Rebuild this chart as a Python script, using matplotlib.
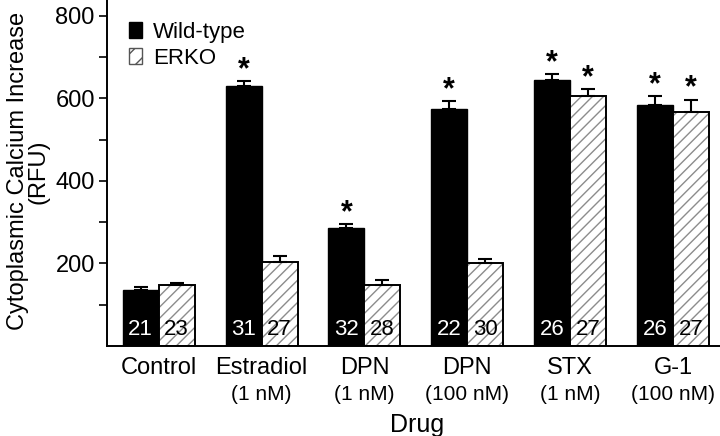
import numpy
import matplotlib
matplotlib.use("Agg")
import matplotlib.pyplot as pyplot
import matplotlib.ticker as ticker

pyplot.rc("font", family=["Liberation Sans", "DejaVu Sans"], size=15)
pyplot.rc("hatch", linewidth=1.0)

drugNames = ["Control", "Estradiol", "DPN", "DPN", "STX", "G-1"]
drugDoses = ["", "(1 nM)", "(1 nM)", "(100 nM)", "(1 nM)", "(100 nM)"]

wildType = [136, 629, 285, 575, 644, 585]
wildTypeErr = [6, 12, 11, 18, 16, 21]
erko = [147, 202, 147, 201, 606, 567]
erkoErr = [6, 16, 12, 10, 17, 30]

wildTypeN = [21, 31, 32, 22, 26, 26]
erkoN = [23, 27, 28, 30, 27, 27]

wildTypeStar = [False, True, True, True, True, True]
erkoStar = [False, False, False, False, True, True]

x = numpy.arange(len(drugNames))
width = 0.35
hatchGray = "#8c8c8c"

figure = pyplot.figure(figsize=(7.2, 4.36), dpi=100)
axes = figure.add_axes([0.149, 0.207, 0.86, 0.80])

errStyle = {"ecolor": "black", "elinewidth": 1.5, "capsize": 5, "capthick": 1.5}

axes.bar(x - width / 2, wildType, width, color="black", edgecolor="black",
         linewidth=1.0, label="Wild-type",
         yerr=[numpy.zeros(len(x)), wildTypeErr], error_kw=errStyle, zorder=2)
# hatch drawn in gray, outline drawn on top in black
axes.bar(x + width / 2, erko, width, color="white", edgecolor=hatchGray,
         linewidth=0.0, hatch="///", zorder=2)
axes.bar(x + width / 2, erko, width, fill=False, edgecolor="black",
         linewidth=1.4, yerr=[numpy.zeros(len(x)), erkoErr],
         error_kw=errStyle, zorder=2.5)

for i in range(len(x)):
    axes.text(x[i] - width / 2, 15, str(wildTypeN[i]), color="white",
              ha="center", va="bottom", fontsize=16, zorder=3)
    axes.text(x[i] + width / 2, 15, str(erkoN[i]), color="black",
              ha="center", va="bottom", fontsize=16, zorder=3)
    if wildTypeStar[i]:
        axes.text(x[i] - width / 2, wildType[i] + wildTypeErr[i] - 10, "*",
                  ha="center", va="bottom", fontsize=22, fontweight="bold")
    if erkoStar[i]:
        axes.text(x[i] + width / 2, erko[i] + erkoErr[i] - 10, "*",
                  ha="center", va="bottom", fontsize=22, fontweight="bold")

axes.set_xlim(-0.5, 5.52)
axes.set_ylim(0, 846)
axes.yaxis.set_major_locator(ticker.FixedLocator([200, 400, 600, 800]))
axes.yaxis.set_minor_locator(ticker.FixedLocator([100, 300, 500, 700]))
axes.tick_params(axis="y", which="major", length=6, width=1.2, labelsize=17, pad=3)
axes.tick_params(axis="y", which="minor", length=6, width=1.2)
axes.set_xticks(x)
axes.set_xticklabels([])
axes.tick_params(axis="x", length=0)

for i in range(len(x)):
    axes.annotate(drugNames[i], xy=(x[i], 0), xycoords=("data", "axes fraction"),
                  xytext=(0, -8), textcoords="offset points",
                  ha="center", va="top", fontsize=17)
    if drugDoses[i]:
        axes.annotate(drugDoses[i], xy=(x[i], 0), xycoords=("data", "axes fraction"),
                      xytext=(0, -28), textcoords="offset points",
                      ha="center", va="top", fontsize=15)

axes.set_xlabel("Drug", fontsize=18, labelpad=45)
axes.set_ylabel("Cytoplasmic Calcium Increase\n(RFU)", fontsize=17,
                linespacing=0.95, labelpad=4)

for side in ["top", "right"]:
    axes.spines[side].set_visible(False)
for side in ["left", "bottom"]:
    axes.spines[side].set_linewidth(1.4)

handles = [
    pyplot.Rectangle((0, 0), 1, 1, facecolor="black", edgecolor="black"),
    pyplot.Rectangle((0, 0), 1, 1, facecolor="white", edgecolor="#555555",
                     hatch="//", linewidth=1.0),
]
axes.legend(handles, ["Wild-type", "ERKO"], loc="upper left",
            bbox_to_anchor=(0.02, 0.955), frameon=False,
            fontsize=16, handlelength=0.6, handleheight=0.75,
            handletextpad=0.5, labelspacing=0.25, borderaxespad=0.0)

figure.savefig("out.png", dpi=100)
